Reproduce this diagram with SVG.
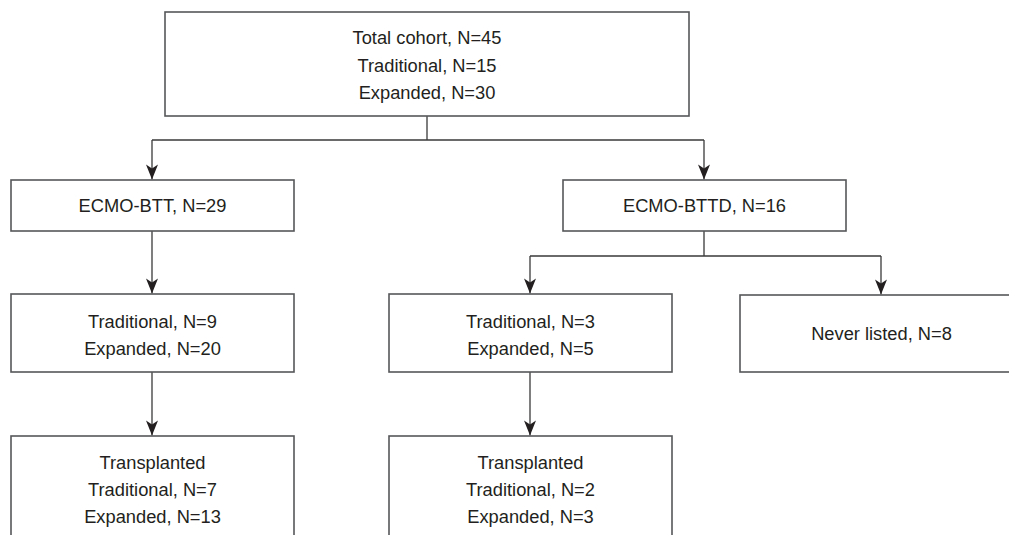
<svg xmlns="http://www.w3.org/2000/svg" width="1009" height="535" viewBox="0 0 1009 535">
<style>
.box{fill:#fff;stroke:#555759;stroke-width:1.6}
.t{font-family:"Liberation Sans",Arial,sans-serif;font-size:18.3px;fill:#231f20;text-anchor:middle}
.c{fill:none;stroke:#3a3a3a;stroke-width:1.3}
</style>
<defs>
<marker id="ah" markerUnits="userSpaceOnUse" markerWidth="17" markerHeight="14" viewBox="-16 -7 17 14" refX="0" refY="0" orient="auto">
<path d="M0,0 L-15,-6 L-11,0 L-15,6 Z" fill="#231f20"/>
</marker>
</defs>
<rect width="1009" height="535" fill="#fff"/>
<g id="connectors">
<path class="c" d="M427,116 V140 M152,140 H704"/>
<path class="c" d="M152,140 V179.5" marker-end="url(#ah)"/>
<path class="c" d="M704,140 V179.5" marker-end="url(#ah)"/>
<path class="c" d="M152,231 V293.5" marker-end="url(#ah)"/>
<path class="c" d="M704,231 V256 M530,256 H881"/>
<path class="c" d="M530,256 V293.5" marker-end="url(#ah)"/>
<path class="c" d="M881,256 V294.5" marker-end="url(#ah)"/>
<path class="c" d="M152,372 V435.5" marker-end="url(#ah)"/>
<path class="c" d="M530,372 V435.5" marker-end="url(#ah)"/>
</g>
<g id="total">
<rect class="box" x="165" y="12" width="524" height="104"/>
<text class="t" x="427" y="44.3">Total cohort, N=45</text>
<text class="t" x="427" y="71.5">Traditional, N=15</text>
<text class="t" x="427" y="98.5">Expanded, N=30</text>
</g>
<g id="btt">
<rect class="box" x="11" y="180" width="283" height="51"/>
<text class="t" x="152.5" y="211.6">ECMO-BTT, N=29</text>
</g>
<g id="bttd">
<rect class="box" x="563" y="180" width="283" height="51"/>
<text class="t" x="704.5" y="211.6">ECMO-BTTD, N=16</text>
</g>
<g id="btt-split">
<rect class="box" x="11" y="294" width="283" height="78"/>
<text class="t" x="152.5" y="327.6">Traditional, N=9</text>
<text class="t" x="152.5" y="354.6">Expanded, N=20</text>
</g>
<g id="bttd-split">
<rect class="box" x="389" y="294" width="283" height="78"/>
<text class="t" x="530.5" y="327.6">Traditional, N=3</text>
<text class="t" x="530.5" y="354.6">Expanded, N=5</text>
</g>
<g id="never">
<rect class="box" x="740" y="295" width="283" height="77"/>
<text class="t" x="881.5" y="339.6">Never listed, N=8</text>
</g>
<g id="btt-tx">
<rect class="box" x="11" y="436" width="283" height="120"/>
<text class="t" x="152.5" y="468.6">Transplanted</text>
<text class="t" x="152.5" y="495.6">Traditional, N=7</text>
<text class="t" x="152.5" y="522.6">Expanded, N=13</text>
</g>
<g id="bttd-tx">
<rect class="box" x="389" y="436" width="283" height="120"/>
<text class="t" x="530.5" y="468.6">Transplanted</text>
<text class="t" x="530.5" y="495.6">Traditional, N=2</text>
<text class="t" x="530.5" y="522.6">Expanded, N=3</text>
</g>
</svg>
